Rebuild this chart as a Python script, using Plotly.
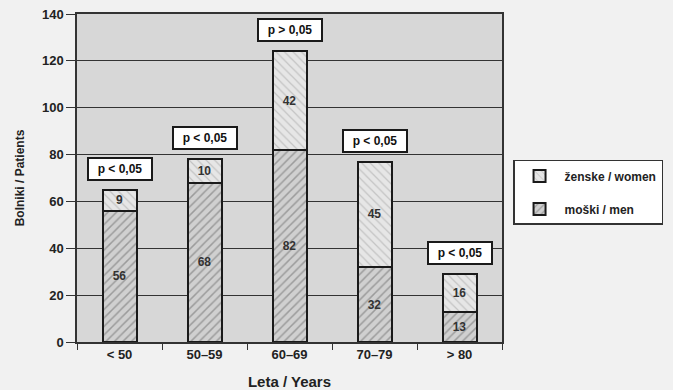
import plotly.graph_objects as go

categories = ["< 50", "50–59", "60–69", "70–79", "> 80"]
men = [56, 68, 82, 32, 13]
women = [9, 10, 42, 45, 16]
p_labels = ["p < 0,05", "p < 0,05", "p > 0,05", "p < 0,05", "p < 0,05"]
y_ticks = [0, 20, 40, 60, 80, 100, 120, 140]

FONT = "Liberation Sans, Arial, sans-serif"

fig = go.Figure()
fig.add_trace(go.Bar(
    x=categories, y=men, name="<b>moški / men</b>", legendgroup="m", legendrank=2,
    text=[f"<b>{v}</b>" for v in men], textposition="inside",
    insidetextanchor="middle", textangle=0,
    textfont=dict(family=FONT, size=12, color="#333"),
    marker=dict(color="#c8c8c8",
                line=dict(color="#1a1a1a", width=2),
                pattern=dict(shape="/", fgcolor="#666666", bgcolor="#d0d0d0",
                             size=6, solidity=0.25)),
    width=0.4,
))
fig.add_trace(go.Bar(
    x=categories, y=women, name="<b>ženske / women</b>", legendgroup="w", legendrank=1,
    text=[f"<b>{v}</b>" for v in women], textposition="inside",
    insidetextanchor="middle", textangle=0,
    textfont=dict(family=FONT, size=12, color="#333"),
    marker=dict(color="#e0e0e0",
                line=dict(color="#1a1a1a", width=2),
                pattern=dict(shape="\\", fgcolor="#a0a0a0", bgcolor="#e6e6e6",
                             size=6, solidity=0.2)),
    width=0.4,
))

totals = [m + w for m, w in zip(men, women)]
for c, t, p in zip(categories, totals, p_labels):
    fig.add_annotation(
        x=c, y=t, text=f"<b>{p}</b>", showarrow=False,
        yanchor="bottom", yshift=9,
        font=dict(family=FONT, size=12, color="#111"),
        bgcolor="white", bordercolor="#1a1a1a", borderwidth=2, borderpad=3,
        width=56,
    )

fig.update_layout(
    width=673, height=390,
    margin=dict(l=77, r=171, t=14, b=48, autoexpand=False),
    barmode="stack", bargap=0.6,
    paper_bgcolor="#f1f1f1", plot_bgcolor="#d7d7d7",
    font=dict(family=FONT, color="#222"),
    showlegend=True,
    legend=dict(
        x=1.026, y=0.555, xanchor="left", yanchor="top",
        traceorder="grouped",
        bgcolor="white", bordercolor="#333", borderwidth=1.5,
        font=dict(family=FONT, size=12, color="#222"),
        itemwidth=40, tracegroupgap=14,
    ),
)
fig.update_yaxes(
    automargin=False,
    range=[0, 140], showgrid=True, gridcolor="#333", gridwidth=1,
    showline=True, linecolor="#333", linewidth=1.5, mirror=True,
    ticks="outside", ticklen=9, tickcolor="#333",
    tickfont=dict(family=FONT, size=13, color="#222"),
    tickvals=y_ticks, ticktext=[f"<b>{v}</b>" for v in y_ticks],
    title=dict(text="<b>Bolniki / Patients</b>",
               font=dict(family=FONT, size=12, color="#222")),
    zeroline=False,
)
fig.update_xaxes(
    automargin=False,
    showline=True, linecolor="#333", linewidth=1.5, mirror=True,
    ticks="outside", ticklen=6, tickcolor="#333", tickson="boundaries",
    tickfont=dict(family=FONT, size=13, color="#222"),
    tickvals=categories, ticktext=[f"<b>{c}</b>" for c in categories],
    title=dict(text="<b>Leta / Years</b>",
               font=dict(family=FONT, size=15, color="#222")),
)

fig.write_html("out.html", config={"displayModeBar": False},
               post_script="document.body.style.margin='0';document.body.style.background='#f1f1f1';")
